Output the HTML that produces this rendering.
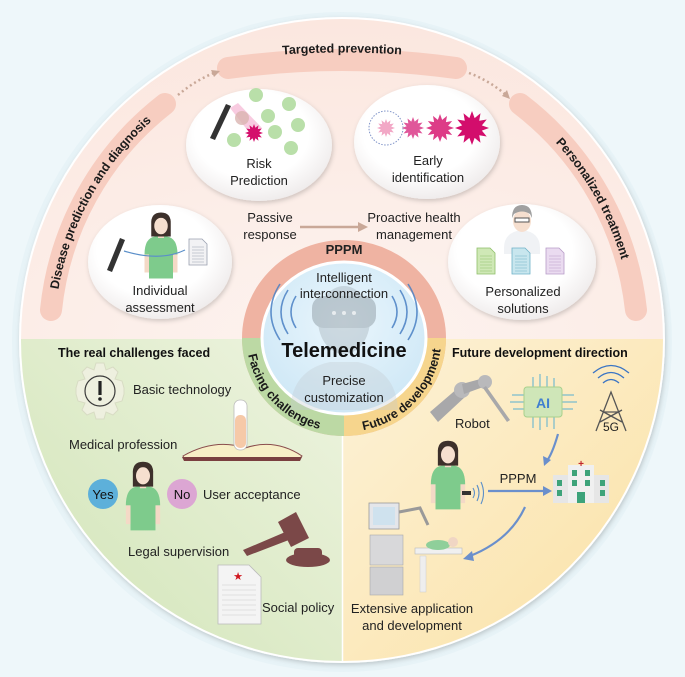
<!DOCTYPE html>
<html><head><meta charset="utf-8"><style>
html,body{margin:0;padding:0;background:#eef7fa;}
svg{display:block;font-family:"Liberation Sans",Arial,sans-serif;}
</style></head><body>
<svg width="685" height="677" viewBox="0 0 685 677" xmlns="http://www.w3.org/2000/svg">
<defs>
 <linearGradient id="gl" x1="0" y1="1" x2="1" y2="0"><stop offset="0" stop-color="#cfe3b4"/><stop offset="1" stop-color="#eef4e0"/></linearGradient>
 <linearGradient id="yl" x1="1" y1="1" x2="0" y2="0"><stop offset="0" stop-color="#fae0a0"/><stop offset="1" stop-color="#fdf2d8"/></linearGradient>
 <radialGradient id="pk" cx="50%" cy="100%" r="100%"><stop offset="0" stop-color="#fdf3ef"/><stop offset="1" stop-color="#fbe6de"/></radialGradient>
 <radialGradient id="wc" cx="45%" cy="40%" r="65%"><stop offset="0.6" stop-color="#ffffff"/><stop offset="1" stop-color="#ece8e8"/></radialGradient>
 <radialGradient id="bc" cx="50%" cy="40%" r="60%"><stop offset="0" stop-color="#eaf6fd"/><stop offset="1" stop-color="#cfe8f6"/></radialGradient>
 <filter id="sh" x="-20%" y="-20%" width="140%" height="140%"><feDropShadow dx="1" dy="2" stdDeviation="2.5" flood-color="#000" flood-opacity="0.18"/></filter>
 <clipPath id="cc"><circle cx="342" cy="340" r="321"/></clipPath>
 <symbol id="star" viewBox="-1 -1 2 2"><path d="M1,0 L.58,.155 .866,.5 .424,.424 .5,.866 .155,.58 0,1 -.155,.58 -.5,.866 -.424,.424 -.866,.5 -.58,.155 -1,0 -.58,-.155 -.866,-.5 -.424,-.424 -.5,-.866 -.155,-.58 0,-1 .155,-.58 .5,-.866 .424,-.424 .866,-.5 .58,-.155Z"/></symbol>
 <g id="woman">
  <path d="M-22,30 Q-22,8 -8,6 L8,6 Q22,8 22,30 L16,30 L16,62 L-16,62 L-16,30Z" fill="#7ecb8c"/>
  <rect x="-4" y="0" width="8" height="8" fill="#f4d9c6"/>
  <path d="M-13,-10 Q-14,-26 0,-26 Q14,-26 13,-10 L13,6 L-13,6Z" fill="#3d302b"/>
  <ellipse cx="0" cy="-8" rx="9" ry="11" fill="#f6dfcf"/>
  <path d="M-9,-12 Q-6,-20 0,-19 Q8,-20 9,-12 L9,-18 Q0,-26 -9,-18Z" fill="#3d302b"/>
  <rect x="-22" y="30" width="6" height="24" fill="#f4d9c6"/>
  <rect x="16" y="30" width="6" height="24" fill="#f4d9c6"/>
 </g>
 <g id="doc"><path d="M0,0 H13 L18,5 V26 H0Z" stroke-width="0.8"/><path d="M3,8H15M3,11H15M3,14H15M3,17H15M3,20H15M3,23H15" stroke-width="0.6"/></g>
</defs>

<rect width="685" height="677" fill="#eef7fa"/>
<circle cx="342" cy="342" r="330" fill="#e4f1f5" opacity="0.7"/>
<circle cx="342" cy="340" r="323" fill="#fff" filter="url(#sh)"/>
<g clip-path="url(#cc)">
 <rect x="0" y="0" width="685" height="339" fill="url(#pk)"/>
 <rect x="0" y="339" width="343" height="340" fill="url(#gl)"/>
 <rect x="343" y="339" width="345" height="340" fill="url(#yl)"/>
</g>
<line x1="342.5" y1="339" x2="342.5" y2="662" stroke="#fff" stroke-width="1.5"/>

<g fill="none" stroke="#f7cdc0" stroke-width="22" stroke-linecap="round">
 <path d="M51,310 A300 300 0 0 1 165,104"/>
 <path d="M228,68 Q342,52 456,68"/>
 <path d="M520,104 A300 300 0 0 1 636,310"/>
</g>
<g fill="none" stroke="#c9a898" stroke-width="2.5" stroke-dasharray="2 3">
 <path d="M178,95 Q196,80 214,73"/>
 <path d="M469,73 Q488,80 505,94"/>
</g>
<path d="M220,71 L211,70 L214,77Z" fill="#c9a898"/>
<path d="M510,99 L507,90 L502,96Z" fill="#c9a898"/>
<path id="pl" d="M51,310 A300 300 0 0 1 165,104" fill="none"/>
<path id="pt" d="M218,61 Q342,44 466,61" fill="none"/>
<path id="pr" d="M520,104 A300 300 0 0 1 636,310" fill="none"/>
<g font-weight="bold" font-size="12.5" fill="#1a1a1a">
 <text dy="4.5"><textPath href="#pl" startOffset="50%" text-anchor="middle">Disease prediction and diagnosis</textPath></text>
 <text><textPath href="#pt" startOffset="50%" text-anchor="middle">Targeted prevention</textPath></text>
 <text dy="4.5"><textPath href="#pr" startOffset="50%" text-anchor="middle">Personalized treatment</textPath></text>
</g>

<g filter="url(#sh)" fill="url(#wc)">
 <ellipse cx="259" cy="145" rx="73" ry="56"/>
 <ellipse cx="427" cy="142" rx="73" ry="57"/>
 <ellipse cx="160" cy="262" rx="72" ry="57"/>
 <ellipse cx="522" cy="262" rx="74" ry="58"/>
</g>
<g fill="#b9dfa9">
 <circle cx="256" cy="95" r="7"/><circle cx="289" cy="104" r="7"/><circle cx="268" cy="116" r="7"/>
 <circle cx="298" cy="125" r="7"/><circle cx="275" cy="132" r="7"/><circle cx="234" cy="140" r="7"/><circle cx="291" cy="148" r="7"/>
</g>
<path d="M230,108 L238,103 L262,128 L252,136Z" fill="#f4a9cb" opacity="0.6"/>
<circle cx="242" cy="118" r="7" fill="#d9b4b0" opacity="0.8"/>
<path d="M210,138 L226,104 L231,106 L215,140Z" fill="#333"/>
<use href="#star" x="245" y="124" width="18" height="18" fill="#d4106c"/>
<text x="259" y="168" font-size="13" text-anchor="middle" fill="#222">Risk</text>
<text x="259" y="185" font-size="13" text-anchor="middle" fill="#222">Prediction</text>
<circle cx="386" cy="128" r="17" fill="none" stroke="#7f93c8" stroke-width="1" stroke-dasharray="1.5 1.5"/>
<use href="#star" x="377" y="119" width="18" height="18" fill="#f2a8c6"/>
<use href="#star" x="402" y="117" width="22" height="22" fill="#e0579a"/>
<use href="#star" x="426" y="114" width="28" height="28" fill="#dd3c87"/>
<use href="#star" x="455" y="111" width="34" height="34" fill="#d30d6c"/>
<text x="428" y="165" font-size="13" text-anchor="middle" fill="#222">Early</text>
<text x="428" y="182" font-size="13" text-anchor="middle" fill="#222">identification</text>
<g transform="translate(161,232) scale(0.75)"><use href="#woman"/></g>
<path d="M107,270 L120,238 L125,240 L112,272Z" fill="#333"/>
<path d="M124,251 Q160,262 185,250" fill="none" stroke="#5b8fc9" stroke-width="1.2"/>
<use href="#doc" x="189" y="239" fill="#f2f2f4" stroke="#9aa0b0"/>
<text x="160" y="295" font-size="13" text-anchor="middle" fill="#222">Individual</text>
<text x="160" y="312" font-size="13" text-anchor="middle" fill="#222">assessment</text>
<path d="M504,248 Q504,232 522,230 Q540,232 540,248 L540,254 L504,254Z" fill="#f0f2f5"/>
<ellipse cx="522" cy="221" rx="9" ry="11" fill="#f6dfcf"/>
<path d="M512,218 Q512,205 522,205 Q532,205 532,218 L530,214 Q522,209 514,214Z" fill="#a0a0a0"/>
<rect x="515" y="218" width="14" height="4" fill="#fff" stroke="#555" stroke-width="1"/>
<use href="#doc" x="477" y="248" fill="#cfe8b6" stroke="#8fbf6a"/>
<use href="#doc" x="512" y="248" fill="#c8e6ee" stroke="#6fb2c8"/>
<use href="#doc" x="546" y="248" fill="#eadbf0" stroke="#b89cc8"/>
<text x="523" y="296" font-size="13" text-anchor="middle" fill="#222">Personalized</text>
<text x="523" y="313" font-size="13" text-anchor="middle" fill="#222">solutions</text>
<text x="270" y="222" font-size="13" text-anchor="middle" fill="#222">Passive</text>
<text x="270" y="239" font-size="13" text-anchor="middle" fill="#222">response</text>
<line x1="300" y1="227" x2="360" y2="227" stroke="#c9a898" stroke-width="2.5"/>
<path d="M368,227 L358,222 L358,232Z" fill="#c9a898"/>
<text x="414" y="222" font-size="13" text-anchor="middle" fill="#222">Proactive health</text>
<text x="414" y="239" font-size="13" text-anchor="middle" fill="#222">management</text>

<ellipse cx="344" cy="338" rx="102" ry="98" fill="#efb3a2"/>
<path d="M344,338 L242,338 A102 98 0 0 0 344 436Z" fill="#bcd9a4"/>
<path d="M344,338 L344,436 A102 98 0 0 0 446 338Z" fill="#f6d58d"/>
<ellipse cx="344" cy="338" rx="82" ry="76" fill="url(#bc)" stroke="#fff" stroke-width="3"/>
<g opacity="0.35" fill="#9aa6ae">
 <path d="M290,410 Q292,370 330,362 L358,362 Q396,370 398,410Z" fill="#c3ccd2"/>
 <ellipse cx="344" cy="320" rx="26" ry="34"/>
 <rect x="312" y="296" width="64" height="32" rx="12" fill="#6d7880"/>
</g>
<g fill="none" stroke="#4a80c4" stroke-width="1.6" opacity="0.85">
 <path d="M296,296 Q286,312 296,328"/><path d="M288,290 Q274,312 288,334"/><path d="M280,284 Q262,312 280,340"/>
 <path d="M392,296 Q402,312 392,328"/><path d="M400,290 Q414,312 400,334"/><path d="M408,284 Q426,312 408,340"/>
</g>
<g fill="#e8ecef"><circle cx="334" cy="313" r="2"/><circle cx="344" cy="313" r="2"/><circle cx="354" cy="313" r="2"/></g>
<text x="344" y="254" font-size="13" font-weight="bold" text-anchor="middle" fill="#222">PPPM</text>
<text x="344" y="282" font-size="13" text-anchor="middle" fill="#222">Intelligent</text>
<text x="344" y="298" font-size="13" text-anchor="middle" fill="#222">interconnection</text>
<text x="344" y="357" font-size="20" font-weight="bold" text-anchor="middle" fill="#111">Telemedicine</text>
<text x="344" y="385" font-size="13" text-anchor="middle" fill="#222">Precise</text>
<text x="344" y="402" font-size="13" text-anchor="middle" fill="#222">customization</text>
<path id="rl" d="M247,330 A97 94 0 0 0 344 432" fill="none"/>
<path id="rr" d="M344,432 A97 94 0 0 0 441 330" fill="none"/>
<g font-size="12.5" font-weight="bold" fill="#1a1a1a">
 <text><textPath href="#rl" startOffset="50%" text-anchor="middle">Facing challenges</textPath></text>
 <text><textPath href="#rr" startOffset="50%" text-anchor="middle">Future development</textPath></text>
</g>

<text x="58" y="357" font-size="12.5" font-weight="bold" fill="#111">The real challenges faced</text>
<g transform="translate(100,391)">
 <path d="M-4,-28 H4 L6,-21 L13,-24 L18,-19 L15,-12 L22,-10 L24,-3 V3 L22,10 L15,12 L18,19 L13,24 L6,21 L4,28 H-4 L-6,21 L-13,24 L-18,19 L-15,12 L-22,10 L-24,3 V-3 L-22,-10 L-15,-12 L-18,-19 L-13,-24 L-6,-21Z" fill="#eef0df" stroke="#d8dcc4" stroke-width="1"/>
 <circle r="15" fill="none" stroke="#3a3a3a" stroke-width="1.2"/>
 <rect x="-1.6" y="-10" width="3.2" height="14" fill="#222"/><circle cy="8" r="1.8" fill="#222"/>
</g>
<text x="133" y="394" font-size="13" fill="#222">Basic technology</text>
<path d="M183,456 Q215,438 245,448 Q275,438 302,456 L300,458 L184,458Z" fill="#f7efc6" stroke="#8a4d4d" stroke-width="1"/>
<path d="M182,457 L302,457 L300,461 L184,461Z" fill="#7a3f3f"/>
<rect x="234" y="400" width="13" height="50" rx="6" fill="#fff" stroke="#bbb" stroke-width="0.8"/>
<rect x="235" y="415" width="11" height="33" rx="5" fill="#f6c9a8"/>
<text x="69" y="449" font-size="13" fill="#222">Medical profession</text>
<g transform="translate(143,482) scale(0.78)"><use href="#woman"/></g>
<circle cx="103" cy="494" r="15" fill="#5db0da"/>
<text x="103" y="499" font-size="13" text-anchor="middle" fill="#111">Yes</text>
<circle cx="182" cy="494" r="15" fill="#dca6d3"/>
<text x="182" y="499" font-size="13" text-anchor="middle" fill="#111">No</text>
<text x="203" y="499" font-size="13" fill="#222">User acceptance</text>
<g fill="#7b4848">
 <path d="M243,550 L290,530 L294,538 L247,556Z"/>
 <path d="M278,522 L296,512 L309,538 L291,547Z"/>
 <ellipse cx="308" cy="560" rx="22" ry="7"/>
 <rect x="294" y="548" width="28" height="10" rx="4"/>
</g>
<text x="128" y="556" font-size="13" fill="#222">Legal supervision</text>
<path d="M218,565 H249 L261,577 V624 H218Z" fill="#f4f4f4" stroke="#bbb" stroke-width="0.8"/>
<g stroke="#ccc" stroke-width="0.6"><path d="M222,585H256M222,590H256M222,595H256M222,600H256M222,605H256M222,610H256M222,615H256"/></g>
<text x="238" y="580" font-size="11" text-anchor="middle" fill="#d0161f">★</text>
<text x="262" y="612" font-size="13" fill="#222">Social policy</text>

<text x="452" y="357" font-size="12.5" font-weight="bold" fill="#111">Future development direction</text>
<g fill="#a8a8aa">
 <path d="M430,412 L458,388 L466,396 L438,422Z"/>
 <circle cx="462" cy="390" r="8" fill="#b9b9bb"/>
 <path d="M462,384 L484,378 L486,386 L464,394Z"/>
 <circle cx="485" cy="382" r="7" fill="#b9b9bb"/>
 <path d="M486,386 L510,420 L507,422 L483,388Z"/>
</g>
<text x="455" y="428" font-size="13" fill="#222">Robot</text>
<g stroke="#5ab0d0" stroke-width="1" fill="none">
 <path d="M525,395 H512 M525,402 H510 M525,409 H513 M561,395 H574 M561,402 H577 M561,409 H573 M533,387 V377 M540,387 V374 M547,387 V376 M554,387 V378 M533,417 V428 M540,417 V430 M547,417 V427 M554,417 V429"/>
</g>
<rect x="524" y="387" width="38" height="30" rx="3" fill="#cfe6b8" stroke="#a8d08c"/>
<text x="543" y="408" font-size="14" font-weight="bold" text-anchor="middle" fill="#3f7fcf">AI</text>
<g stroke="#555" stroke-width="1.3" fill="none">
 <path d="M596,431 L611,392 L626,431 M603,412 H619 M600,422 L622,410 M622,422 L600,410"/>
 <path d="M603,383 Q611,376 619,383" stroke="#3a74c4"/><path d="M598,378 Q611,367 624,378" stroke="#3a74c4"/><path d="M593,373 Q611,358 629,373" stroke="#3a74c4"/>
</g>
<text x="611" y="431" font-size="12" text-anchor="middle" fill="#222">5G</text>
<path d="M558,434 Q552,455 546,462" fill="none" stroke="#6a8fcc" stroke-width="2.2"/>
<path d="M544,466 L543,456 L551,460Z" fill="#6a8fcc"/>
<g transform="translate(448,461) scale(0.78)"><use href="#woman"/></g>
<rect x="462" y="491" width="9" height="4" fill="#333"/>
<g fill="none" stroke="#5b8fc9" stroke-width="1.1"><path d="M473,488 Q476,493 473,498"/><path d="M477,485 Q481,493 477,501"/><path d="M481,482 Q486,493 481,504"/></g>
<line x1="488" y1="491" x2="545" y2="491" stroke="#6a8fcc" stroke-width="2.2"/>
<path d="M552,491 L543,486 L543,496Z" fill="#6a8fcc"/>
<text x="518" y="483" font-size="13" text-anchor="middle" fill="#222">PPPM</text>
<g>
 <rect x="553" y="475" width="56" height="28" fill="#e6e6e6"/>
 <rect x="568" y="465" width="26" height="38" fill="#f0f0f0"/>
 <g fill="#3da37a"><rect x="557" y="480" width="5" height="6"/><rect x="557" y="490" width="5" height="6"/><rect x="600" y="480" width="5" height="6"/><rect x="600" y="490" width="5" height="6"/>
 <rect x="572" y="470" width="5" height="6"/><rect x="585" y="470" width="5" height="6"/><rect x="572" y="480" width="5" height="6"/><rect x="585" y="480" width="5" height="6"/><rect x="577" y="492" width="8" height="11"/></g>
 <text x="581" y="467" font-size="10" font-weight="bold" text-anchor="middle" fill="#c0262d">+</text>
</g>
<path d="M525,507 Q510,540 470,556" fill="none" stroke="#6a8fcc" stroke-width="2.2"/>
<path d="M463,559 L472,551 L474,561Z" fill="#6a8fcc"/>
<rect x="369" y="503" width="30" height="26" fill="#e4e6ea" stroke="#999" stroke-width="0.8"/>
<rect x="373" y="507" width="22" height="18" fill="#cfe2ee"/>
<rect x="370" y="535" width="33" height="30" fill="#d8d8da" stroke="#aaa" stroke-width="0.6"/>
<rect x="370" y="567" width="33" height="28" fill="#d0d0d2" stroke="#aaa" stroke-width="0.6"/>
<path d="M399,512 L420,508 L428,525" fill="none" stroke="#999" stroke-width="3"/>
<rect x="415" y="548" width="47" height="6" fill="#f0f0f0" stroke="#bbb" stroke-width="0.6"/>
<ellipse cx="438" cy="545" rx="12" ry="5" fill="#8fcf9a"/>
<circle cx="453" cy="542" r="5" fill="#f0d6c4"/>
<rect x="420" y="556" width="6" height="36" fill="#eee" stroke="#ccc" stroke-width="0.5"/>
<text x="412" y="613" font-size="13" text-anchor="middle" fill="#222">Extensive application</text>
<text x="412" y="630" font-size="13" text-anchor="middle" fill="#222">and development</text>
</svg>
</body></html>
